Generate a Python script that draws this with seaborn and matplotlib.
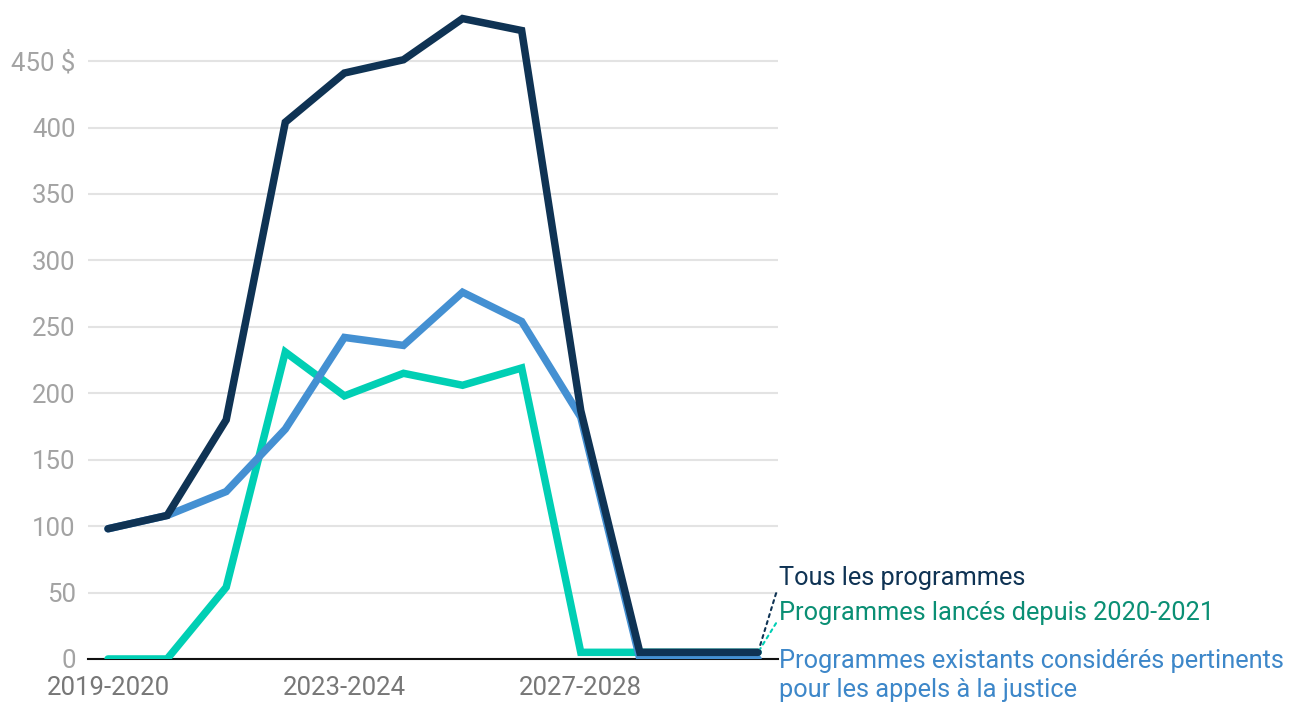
import matplotlib
matplotlib.use("Agg")
import matplotlib.pyplot as plt
import seaborn as sns
import pandas as pd

years = ["2019-2020", "2020-2021", "2021-2022", "2022-2023", "2023-2024", "2024-2025",
         "2025-2026", "2026-2027", "2027-2028", "2028-2029", "2029-2030", "2030-2031"]
nouveaux = [0, 0, 54, 231, 198, 215, 206, 219, 5, 5, 5, 5]
existants = [98, 108, 126, 173, 242, 236, 276, 254, 182, 0, 0, 0]
tous = [98, 108, 180, 404, 441, 451, 482, 473, 187, 5, 5, 5]

series_names = ["Programmes lancés depuis 2020-2021",
                "Programmes existants considérés pertinents\npour les appels à la justice",
                "Tous les programmes"]
line_colors = ["#00cfb4", "#4490d2", "#0f3354"]
label_colors = ["#0a8f74", "#3d87c9", "#0f3354"]
yticks = [0, 50, 100, 150, 200, 250, 300, 350, 400, 450]
ytick_labels = ["0", "50", "100", "150", "200", "250", "300", "350", "400", "450 $"]
xtick_idx = [0, 4, 8]

rows = []
for name, vals in zip(series_names, [nouveaux, existants, tous]):
    for i, v in enumerate(vals):
        rows.append({"idx": i, "annee": years[i], "valeur": v, "serie": name})
df = pd.DataFrame(rows)

sns.set_theme(style="white")
plt.rcParams["font.family"] = ["Roboto", "DejaVu Sans"]

fig = plt.figure(figsize=(12.93, 7.02), dpi=100)
ax = fig.add_axes([0.0681, 0.0613, 0.5336, 0.9274])

sns.lineplot(data=df, x="idx", y="valeur", hue="serie", hue_order=series_names,
             palette=line_colors, linewidth=5.4, ax=ax, legend=False,
             solid_capstyle="round", solid_joinstyle="miter")

ax.set_xlim(-0.338, 11.338)
ax.set_ylim(0, 490)
ax.set_yticks(yticks)
ax.set_yticklabels(ytick_labels)
ax.set_xticks(xtick_idx)
ax.set_xticklabels([years[i] for i in xtick_idx])
ax.tick_params(axis="y", length=0, pad=9, labelsize=18.5, labelcolor="#a3a3a3")
ax.tick_params(axis="x", length=0, pad=12, labelsize=18.5, labelcolor="#777777")
ax.set_xlabel("")
ax.set_ylabel("")
ax.grid(axis="y", color="#e3e3e3", linewidth=1.5)
ax.grid(axis="x", visible=False)
for s in ["top", "right", "left"]:
    ax.spines[s].set_visible(False)
ax.spines["bottom"].set_color("#111111")
ax.spines["bottom"].set_linewidth(1.5)
ax.spines["bottom"].set_zorder(1.5)
ax.set_axisbelow(True)

n = len(years) - 1
fs = 18.3
ax.annotate(series_names[2], xy=(n, tous[-1]), xytext=(11.36, 61),
            textcoords="data", fontsize=fs, color=label_colors[2], va="center", ha="left",
            annotation_clip=False,
            arrowprops=dict(arrowstyle="-", linestyle=(0, (1.5, 2)), color=label_colors[2],
                            lw=1.5, shrinkA=0, shrinkB=3, relpos=(0, 0.3)))
ax.annotate(series_names[0], xy=(n, nouveaux[-1]), xytext=(11.36, 34.5),
            textcoords="data", fontsize=fs, color=label_colors[0], va="center", ha="left",
            annotation_clip=False,
            arrowprops=dict(arrowstyle="-", linestyle=(0, (1.5, 2)), color=line_colors[0],
                            lw=1.5, shrinkA=0, shrinkB=3, relpos=(0, 0.3)))
ax.text(11.36, 7.5, series_names[1], fontsize=fs, color=label_colors[1],
        va="top", ha="left", linespacing=1.25, clip_on=False,
        transform=ax.transData)

fig.savefig("out.png", dpi=100)
